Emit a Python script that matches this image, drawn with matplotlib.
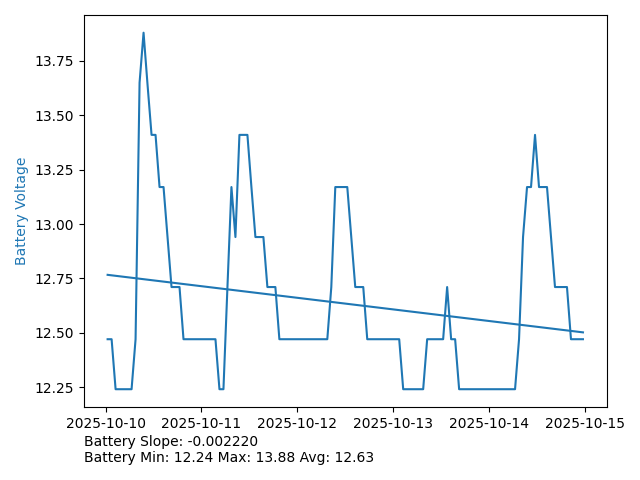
import numpy as np
import pandas as pd
import matplotlib
matplotlib.use("Agg")
import matplotlib.pyplot as plt

# hourly battery readings starting 2025-10-10 00:30
start_time = "2025-10-10 00:30"
voltage = [
    12.47, 12.47, 12.24, 12.24, 12.24, 12.24, 12.24, 12.47, 13.65, 13.88,
    13.64, 13.41, 13.41, 13.17, 13.17, 12.94, 12.71, 12.71, 12.71, 12.47,
    12.47, 12.47, 12.47, 12.47, 12.47, 12.47, 12.47, 12.47, 12.24, 12.24,
    12.71, 13.17, 12.94, 13.41, 13.41, 13.41, 13.17, 12.94, 12.94, 12.94,
    12.71, 12.71, 12.71, 12.47, 12.47, 12.47, 12.47, 12.47, 12.47, 12.47,
    12.47, 12.47, 12.47, 12.47, 12.47, 12.47, 12.71, 13.17, 13.17, 13.17,
    13.17, 12.94, 12.71, 12.71, 12.71, 12.47, 12.47, 12.47, 12.47, 12.47,
    12.47, 12.47, 12.47, 12.47, 12.24, 12.24, 12.24, 12.24, 12.24, 12.24,
    12.47, 12.47, 12.47, 12.47, 12.47, 12.71, 12.47, 12.47, 12.24, 12.24,
    12.24, 12.24, 12.24, 12.24, 12.24, 12.24, 12.24, 12.24, 12.24, 12.24,
    12.24, 12.24, 12.24, 12.47, 12.94, 13.17, 13.17, 13.41, 13.17, 13.17,
    13.17, 12.94, 12.71, 12.71, 12.71, 12.71, 12.47, 12.47, 12.47, 12.47,
]
slope_text = "Battery Slope: -0.002220"
stats_text = "Battery Min: 12.24 Max: 13.88 Avg: 12.63"

times = pd.date_range(start_time, periods=len(voltage), freq="h")
idx = np.arange(len(voltage))
m, b = np.polyfit(idx, voltage, 1)
trend = m * idx + b

fig, ax = plt.subplots(figsize=(6.4, 4.8), dpi=100)
plt.subplots_adjust(left=0.131, right=0.948, top=0.969, bottom=0.152)

ax.plot(times, voltage, color="tab:blue")
ax.plot(times, trend, color="tab:blue")
ax.set_ylabel("Battery Voltage", color="tab:blue")

fig.text(0.131, 0.031, slope_text + "\n" + stats_text, ha="left", va="bottom")

plt.savefig("out.png")
